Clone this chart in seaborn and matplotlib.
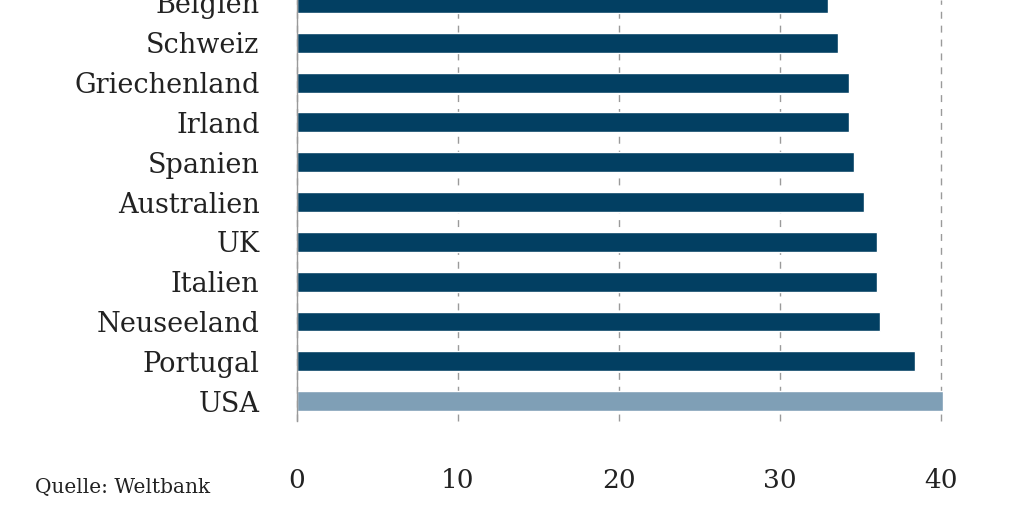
import matplotlib
matplotlib.use("Agg")
import matplotlib.pyplot as plt
import seaborn as sns
import pandas as pd

countries = ["Belgien", "Schweiz", "Griechenland", "Irland", "Spanien", "Australien",
             "UK", "Italien", "Neuseeland", "Portugal", "USA"]
values = [33.0, 33.6, 34.3, 34.3, 34.6, 35.2, 36.0, 36.0, 36.2, 38.4, 40.1]
groups = ["andere"] * 10 + ["USA"]
xticks = [0, 10, 20, 30, 40]

df = pd.DataFrame({"Land": countries, "Wert": values, "Gruppe": groups})

sns.set_style("white")
plt.rcParams["font.family"] = ["DejaVu Serif", "Liberation Serif"]

fig = plt.figure(figsize=(10.24, 5.12), dpi=100)
ax = fig.add_axes([297 / 1024, 1 - 421 / 512, (941 - 297) / 1024, 421 / 512])

sns.barplot(data=df, y="Land", x="Wert", hue="Gruppe", orient="h",
            palette={"andere": "#023f62", "USA": "#7f9fb6"},
            width=0.5, dodge=False, legend=False, ax=ax, saturation=1)
for p in ax.patches:
    p.set_clip_on(False)

ax.set_xlim(0, 40)
ax.set_ylim(10.5, -0.075)
ax.set_xticks(xticks)
ax.set_xticklabels([str(t) for t in xticks], fontsize=19, color="#222222")
ax.tick_params(axis="x", length=0, pad=34)
ax.tick_params(axis="y", length=0, pad=27, labelsize=19.5, labelcolor="#222222")
ax.set_xlabel("")
ax.set_ylabel("")
ax.xaxis.grid(True, linestyle=(0, (5, 5)), color="#9a9a9a", linewidth=1.0)
for gl in ax.get_xgridlines():
    gl.set_clip_on(False)
ax.set_axisbelow(True)
for s in ["top", "right", "bottom"]:
    ax.spines[s].set_visible(False)
ax.spines["left"].set_color("#9a9a9a")
ax.spines["left"].set_linewidth(1.0)

fig.text(35 / 1024, 1 - 487 / 512, "Quelle: Weltbank", fontsize=14.5, color="#222222",
         va="center", ha="left")

fig.savefig("out.png", dpi=100)
